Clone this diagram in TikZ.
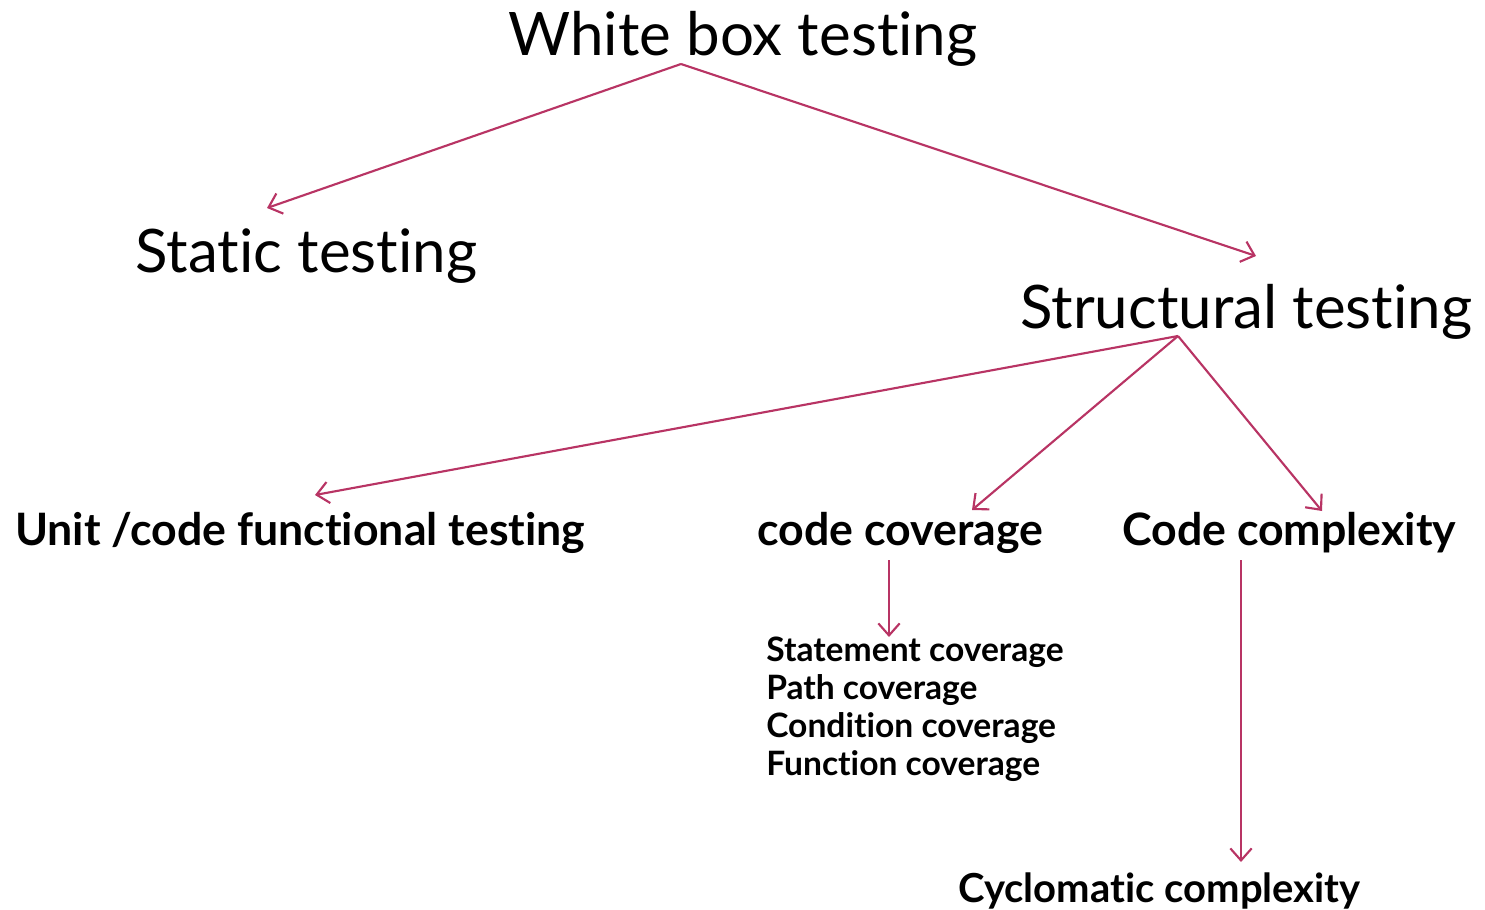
\documentclass[tikz,border=0pt]{standalone}
\usepackage{fontspec}
\setmainfont{Lato}[RawFeature={-liga;-clig;-dlig;-calt}]
\usetikzlibrary{arrows.meta}
\definecolor{linkred}{RGB}{184,52,100}
\tikzset{
  head/.style={font=\fontsize{45}{54}\selectfont, anchor=base west, inner sep=0pt},
  sub/.style={font=\bfseries\fontsize{33.5}{40}\selectfont, anchor=base west, inner sep=0pt},
  items/.style={font=\bfseries\fontsize{25.2}{28.5}\selectfont, anchor=north west, inner sep=0pt, align=left},
  link/.style={draw=linkred, line width=1.6pt, -{Straight Barb[length=9pt,width=16pt,line width=1.6pt]}},
}
\begin{document}
\begin{tikzpicture}[x=0.75pt,y=-0.75pt]
\useasboundingbox (0,0) rectangle (1485,910);

% titles
\node[head] (wb) at (508,55) {White box tes\kern0pt ting};
\node[head] (st) at (135,272) {Sta\kern0pt tic tes\kern0pt ting};
\node[head] (sr) at (1020,328) {Structural tes\kern0pt ting};

% second level
\node[sub] (unit) at (15,545) {Unit /code func\kern0pt tional tes\kern0pt ting};
\node[sub] (cov) at (757,545) {code coverage};
\node[sub] (cpx) at (1122,545) {Code complexity};
\node[sub, font=\bfseries\fontsize{30}{36}\selectfont] (cyc) at (958,902) {Cycloma\kern0pt tic complexity};

% coverage kinds
\node[items] (kinds) at (766,637) {Statement coverage\\Path coverage\\Condi\kern0pt tion coverage\\Func\kern0pt tion coverage};

% connector ends
\coordinate (wbo) at (681,64);
\coordinate (sto) at (267,208);
\coordinate (sri) at (1256,256);
\coordinate (sro) at (1178,336);
\coordinate (uniti) at (315,495);
\coordinate (covi) at (972,510);
\coordinate (cpxi) at (1322,511);
\coordinate (covo) at (889,560);
\coordinate (kindsi) at (889,637);
\coordinate (cpxo) at (1241,560);
\coordinate (cyci) at (1241,862);

\draw[link] (wbo) -- (sto);
\draw[link] (wbo) -- (sri);
\draw[link] (sro) -- (uniti);
\draw[link] (sro) -- (covi);
\draw[link] (sro) -- (cpxi);
\draw[link] (covo) -- (kindsi);
\draw[link] (cpxo) -- (cyci);
\end{tikzpicture}
\end{document}
